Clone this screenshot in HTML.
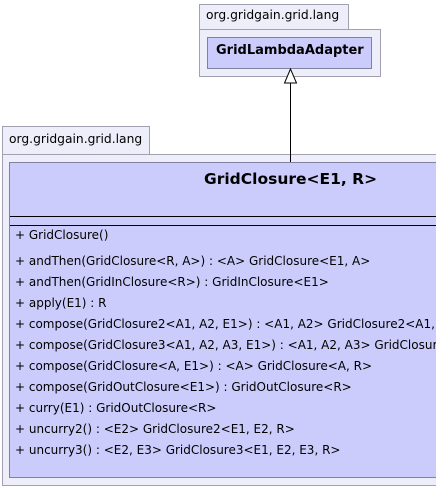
<!DOCTYPE html>
<html><head><style>
html,body{margin:0;width:436px;height:487px;overflow:hidden;}
body{background:#fff;position:relative;font-family:"DejaVu Sans","Liberation Sans",sans-serif;}
#w{position:absolute;left:0;top:0;width:436px;height:487px;overflow:hidden;}
.a{position:absolute;box-sizing:border-box;}
.pk{background:#eeeefa;border:1px solid #a0a0b0;}
.cl{background:#ccccfc;border:1px solid #8080a0;}
.t{position:absolute;font-size:12px;color:#000;white-space:nowrap;}
</style></head><body><div id="w">
<div class="a pk" style="left:199px;top:4px;width:150px;height:26px;"></div>
<div class="t" style="left:206px;top:8px;font-size:12.3px">org.gridgain.grid.lang</div>
<div class="a pk" style="left:199px;top:29px;width:182px;height:48px;"></div>
<div class="a cl" style="left:207px;top:37px;width:165px;height:32px;"></div>
<div class="t" style="left:216px;top:43px;font-weight:bold;font-size:13px">GridLambdaAdapter</div>

<div class="a pk" style="left:2px;top:126px;width:148px;height:29px;"></div>
<div class="t" style="left:9px;top:132px;font-size:12.3px">org.gridgain.grid.lang</div>
<div class="a pk" style="left:2px;top:154px;width:434px;height:332px;border-right:none"></div>
<div class="a cl" style="left:9px;top:162px;width:427px;height:316px;border-right:none;overflow:hidden">
<div class="t" style="left:194px;top:7px;font-weight:bold;font-size:15.5px">GridClosure&lt;E1, R&gt;</div>
<div class="a" style="left:0;top:53px;width:430px;height:1px;background:#000"></div>
<div class="a" style="left:0;top:62px;width:430px;height:1px;background:#000"></div>
<div class="t" style="left:5px;top:65px">+ GridClosure()</div>
<div class="t" style="left:5px;top:91px">+ andThen(GridClosure&lt;R, A&gt;) : &lt;A&gt; GridClosure&lt;E1, A&gt;</div>
<div class="t" style="left:5px;top:112px">+ andThen(GridInClosure&lt;R&gt;) : GridInClosure&lt;E1&gt;</div>
<div class="t" style="left:5px;top:133px">+ apply(E1) : R</div>
<div class="t" style="left:5px;top:154px">+ compose(GridClosure2&lt;A1, A2, E1&gt;) : &lt;A1, A2&gt; GridClosure2&lt;A1, A2, R&gt;</div>
<div class="t" style="left:5px;top:175px">+ compose(GridClosure3&lt;A1, A2, A3, E1&gt;) : &lt;A1, A2, A3&gt; GridClosure3&lt;A1&gt;</div>
<div class="t" style="left:5px;top:196px">+ compose(GridClosure&lt;A, E1&gt;) : &lt;A&gt; GridClosure&lt;A, R&gt;</div>
<div class="t" style="left:5px;top:217px">+ compose(GridOutClosure&lt;E1&gt;) : GridOutClosure&lt;R&gt;</div>
<div class="t" style="left:5px;top:238px">+ curry(E1) : GridOutClosure&lt;R&gt;</div>
<div class="t" style="left:5px;top:259px">+ uncurry2() : &lt;E2&gt; GridClosure2&lt;E1, E2, R&gt;</div>
<div class="t" style="left:5px;top:280px">+ uncurry3() : &lt;E2, E3&gt; GridClosure3&lt;E1, E2, E3, R&gt;</div>
</div>
<svg class="a" style="left:0;top:0" width="436" height="487">
<line x1="290.5" y1="83" x2="290.5" y2="162" stroke="#000" stroke-width="1"/>
<polygon points="290.5,69 284.5,83 296.5,83" fill="#fff" stroke="#000" stroke-width="1"/>
</svg>
</div></body></html>
